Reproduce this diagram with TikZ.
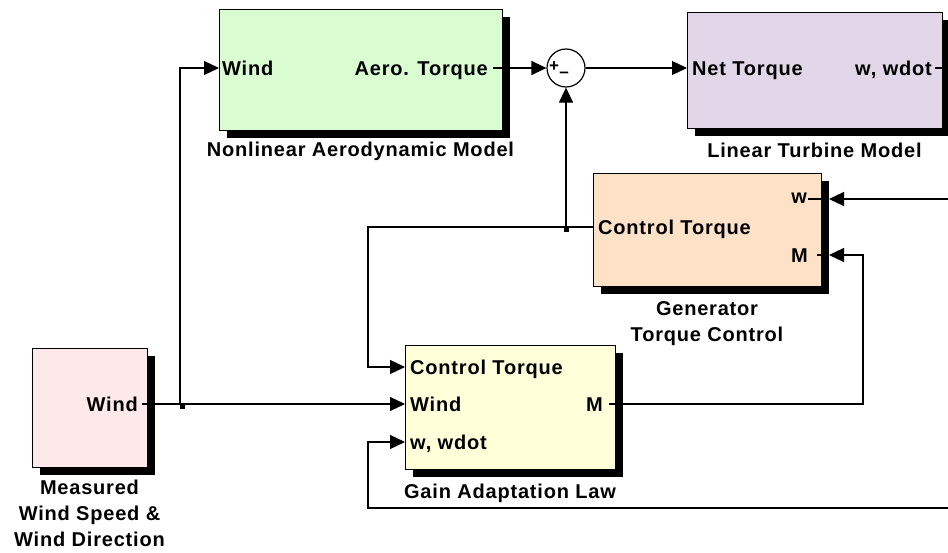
\documentclass[tikz,border=0pt]{standalone}
\usepackage{fontspec}
\setmainfont{Liberation Sans}[LetterSpace=4]
\usetikzlibrary{positioning, arrows.meta, shadows}

\definecolor{aeroGreen}{RGB}{217,252,208}
\definecolor{turbLilac}{RGB}{226,215,232}
\definecolor{genPeach}{RGB}{253,226,200}
\definecolor{measPink}{RGB}{253,233,233}
\definecolor{gainYellow}{RGB}{255,255,218}

\begin{document}
\begin{tikzpicture}[
        x=1pt, y=-1pt,
        block/.style={
            rectangle,
            draw=black,
            line width=0.9pt,
            inner sep=0pt,
            drop shadow={shadow xshift=8pt, shadow yshift=-8pt, fill=black, opacity=1}
        },
        lbl/.style={
            inner sep=0pt,
            font=\bfseries\fontsize{20}{26}\selectfont
        },
        title/.style={
            lbl,
            align=center
        },
        sign/.style={
            inner sep=0pt,
            font=\bfseries\fontsize{17}{17}\selectfont
        },
        wire/.style={
            line width=1.2pt,
            draw=black
        },
        arrow/.style={
            wire,
            -{Triangle[length=15pt,width=14pt]}
        },
        dot/.style={
            rectangle,
            fill=black,
            inner sep=0pt,
            minimum size=5pt
        }
    ]
    \useasboundingbox (0,0) rectangle (948,552);

    % Blocs
    \node[block, fill=aeroGreen, minimum width=283pt, minimum height=121pt] (aero) at (360.5,69.5) {};
    \node[block, fill=turbLilac, minimum width=255pt, minimum height=116pt] (turbine) at (814.5,70) {};
    \node[block, fill=genPeach, minimum width=228pt, minimum height=113pt] (gen) at (707,229.5) {};
    \node[block, fill=measPink, minimum width=115pt, minimum height=119pt] (meas) at (89.5,407.5) {};
    \node[block, fill=gainYellow, minimum width=210pt, minimum height=124pt] (gain) at (510,407) {};
    \node[circle, draw=black, line width=1.2pt, fill=white, minimum size=38pt, inner sep=0pt] (sum) at (566,68) {};
    \node[sign] (sumPlus) at (554,67) {+};
    \node[sign] (sumMinus) at (564,75) {--};

    % Titres
    \node[title, below=11pt of aero] (aeroTitle) {Nonlinear Aerodynamic Model};
    \node[title, below=14pt of turbine] (turbTitle) {Linear Turbine Model};
    \node[title, below=15pt of gen] (genTitle) {Generator\\Torque Control};
    \node[title, below=14pt of gain] (gainTitle) {Gain Adaptation Law};
    \node[title, below=12pt of meas] (measTitle) {Measured\\Wind Speed \&\\Wind Direction};

    % Ports
    \coordinate (aeroIn) at (219,68);
    \coordinate (aeroOut) at (493,68);
    \coordinate (turbIn) at (687,68);
    \coordinate (turbOut) at (935,68);
    \coordinate (turbR) at (948,68);
    \coordinate (genCT) at (593,227);
    \coordinate (genW) at (829,199);
    \coordinate (genWStub) at (808,199);
    \coordinate (genM) at (829,255);
    \coordinate (genMStub) at (817,255);
    \coordinate (measOut) at (142,404);
    \coordinate (gainCT) at (405,367);
    \coordinate (gainWind) at (405,404);
    \coordinate (gainWW) at (405,442);
    \coordinate (gainM) at (609,404);

    % Coudes et jonctions
    \coordinate (windJ) at (180,404);
    \coordinate (ctJ) at (566,227);
    \coordinate (ctCorner) at (368,367);
    \coordinate (mCorner) at (863,255);
    \coordinate (wR) at (948,199);
    \coordinate (fbR) at (948,508);
    \coordinate (fbCorner) at (368,442);

    % Etiquettes des ports
    \node[lbl, anchor=base west] (aeroInLbl) at (222,75.2) {Wind};
    \node[lbl, anchor=base east] (aeroOutLbl) at (488,75.2) {Aero. Torque};
    \node[lbl, anchor=base west] (turbInLbl) at (692,75.2) {Net Torque};
    \node[lbl, anchor=base east] (turbOutLbl) at (932,75.2) {w, wdot};
    \node[lbl, anchor=base west] (genCTLbl) at (598,234.2) {Control Torque};
    \node[lbl, anchor=base east] (genWLbl) at (807,203) {w};
    \node[lbl, anchor=base east] (genMLbl) at (808,262.2) {M};
    \node[lbl, anchor=base east] (measOutLbl) at (138,411.2) {Wind};
    \node[lbl, anchor=base west] (gainCTLbl) at (410,374.2) {Control Torque};
    \node[lbl, anchor=base west] (gainWindLbl) at (410,411.2) {Wind};
    \node[lbl, anchor=base west] (gainWWLbl) at (410,449.2) {w, wdot};
    \node[lbl, anchor=base east] (gainMLbl) at (603,411.2) {M};

    % Liaisons
    \draw[arrow] (measOut) -- (gainWind);
    \draw[arrow] (windJ) |- (aeroIn);
    \draw[arrow] (aeroOut) -- (sum.west);
    \draw[arrow] (sum.east) -- (turbIn);
    \draw[wire] (turbOut) -- (turbR);
    \draw[arrow] (genCT) -- (ctJ) -| (ctCorner) -- (gainCT);
    \draw[arrow] (ctJ) -- (sum.south);
    \draw[arrow] (gainM) -| (mCorner) -- (genM);
    \draw[wire] (genMStub) -- (gen.east |- genM);
    \draw[arrow] (wR) -- (genW);
    \draw[wire] (genWStub) -- (gen.east |- genW);
    \draw[arrow] (fbR) -| (fbCorner) -- (gainWW);

    \node[dot] (windDot) at (182,406) {};
    \node[dot] (ctDot) at (566,229) {};

\end{tikzpicture}
\end{document}
